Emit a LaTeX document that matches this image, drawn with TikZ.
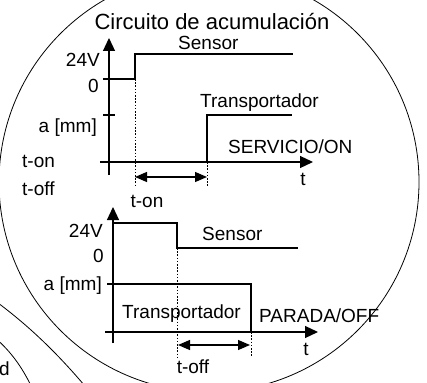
\documentclass[tikz,border=0pt]{standalone}
\usepackage{fontspec}
\setmainfont{Liberation Sans}
\usepackage{tikz}
\usetikzlibrary{arrows.meta,positioning,calc}
\definecolor{ink}{HTML}{000000}

\begin{document}
\begin{tikzpicture}[x=1pt,y=-1pt,
    txt/.style={inner sep=0pt, font=\fontsize{19}{22}\selectfont, text=ink},
    sig/.style={draw=ink, line width=2pt},
    axis/.style={draw=ink, line width=1.2pt, -{Triangle[length=13pt,width=12pt]}},
    guide/.style={draw=ink, line width=0.8pt, dash pattern=on 1.6pt off 1.6pt},
    span/.style={draw=ink, line width=1.2pt, {Triangle[length=12pt,width=10pt]}-{Triangle[length=12pt,width=10pt]}},
    tick/.style={draw=ink, line width=1.2pt}]
  \useasboundingbox (0,0) rectangle (427,382);
  \clip (0,0) rectangle (427,382);

  % lens outline and the neighbouring curves
  \draw[ink, line width=0.8pt] (209,182) circle[radius=210];
  \draw[ink, line width=0.8pt] (-6,300) .. controls (35,330) and (65,362) .. (90,392);
  \draw[ink, line width=0.8pt] (-6,337) .. controls (12,352) and (24,370) .. (34,392);
  \node[txt, anchor=base east] (dd) at (10,375) {d};

  \node[txt, font=\fontsize{22}{25}\selectfont, anchor=base] (title) at (212,30) {Circuito de acumulación};

  % SERVICIO/ON
  \coordinate (on0) at (109,162);
  \draw[axis] (109,175) -- (109,38);
  \draw[axis] (100,162) -- (313,162);
  \draw[tick] (103,115) -- (115,115);
  \draw[sig] (103,79) -- (135,79) -- (135,54) -- (293,54);
  \draw[sig] (on0) -- (207,162) -- (207,115) -- (292,115);
  \draw[guide] (135,79) -- (135,186);
  \draw[guide] (207,162) -- (207,186);
  \coordinate (onA) at (135,177);
  \coordinate (onB) at (207,177);
  \draw[span] (onA) -- (onB);

  \node[txt, anchor=base east] (v1) at (100,67) {24V};
  \node[txt, anchor=base east] (z1) at (99,93) {0};
  \node[txt, anchor=base east] (a1) at (97,132) {a [mm]};
  \node[txt, anchor=base west] (ton) at (22,167) {t-on};
  \node[txt, anchor=base west] (toff) at (22,195) {t-off};
  \node[txt, anchor=base west] (s1) at (178,50) {Sensor};
  \node[txt, anchor=base west] (tr1) at (200,108) {Transportador};
  \node[txt, anchor=base west] (serv) at (228,153) {SERVICIO/ON};
  \node[txt, anchor=base] (t1) at (303,185) {t};
  \node[txt, anchor=base] (ton2) at (147,207) {t-on};

  % PARADA/OFF
  \draw[axis] (113,343) -- (113,207);
  \draw[axis] (105,332) -- (318,332);
  \draw[sig] (113,223) -- (177,223) -- (177,248) -- (298,248);
  \draw[sig] (107,284) -- (251,284) -- (251,332) -- (304,332);
  \draw[guide] (177,248) -- (177,357);
  \draw[guide] (251,332) -- (251,357);
  \coordinate (offA) at (178,345);
  \coordinate (offB) at (250,345);
  \draw[span] (offA) -- (offB);

  \node[txt, anchor=base east] (v2) at (103,237) {24V};
  \node[txt, anchor=base east] (z2) at (104,262) {0};
  \node[txt, anchor=base east] (a2) at (102,290) {a [mm]};
  \node[txt, anchor=base west] (s2) at (202,240) {Sensor};
  \node[txt, anchor=base west] (tr2) at (122,318) {Transportador};
  \node[txt, anchor=base west] (par) at (259,322) {PARADA/OFF};
  \node[txt, anchor=base] (t2) at (306,355) {t};
  \node[txt, anchor=base] (toff2) at (193,373) {t-off};
\end{tikzpicture}
\end{document}
